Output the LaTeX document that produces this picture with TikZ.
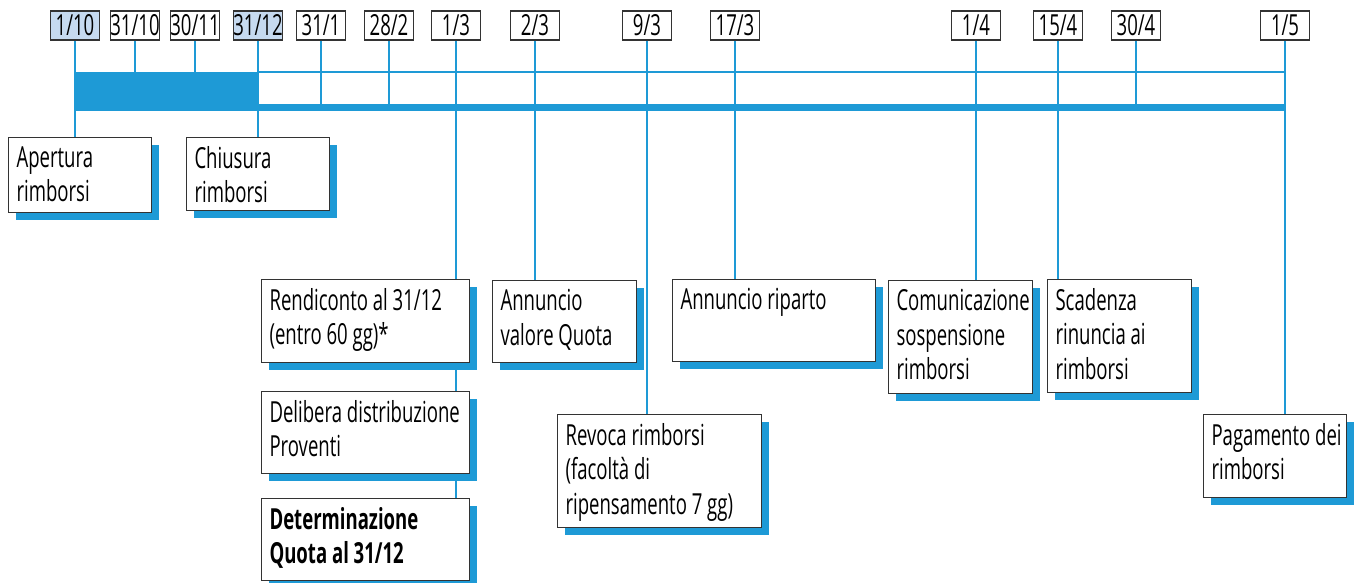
\documentclass[tikz,border=0pt]{standalone}
\usepackage{fontspec}
\setmainfont{Open Sans}[FakeStretch=0.64]
\usetikzlibrary{shadows}
\definecolor{tlblue}{HTML}{1E9AD6}
\definecolor{hilite}{HTML}{C6DAF0}
\definecolor{frame}{HTML}{333333}
\newcommand{\evtext}[3]{\parbox[c][#2][t]{#1}{\raggedright #3}}

\begin{document}
\begin{tikzpicture}[x=0.2mm,y=-0.2mm,
  datebox/.style={draw=frame,fill=white,line width=0.6pt,minimum width=0.97cm,minimum height=0.58cm,inner sep=0pt,font=\fontsize{16.5}{19.5}\selectfont},
  datehi/.style={datebox,fill=hilite},
  evbox/.style={draw=frame,fill=white,line width=0.6pt,anchor=north west,inner xsep=0.16cm,inner ysep=0.18cm,font=\fontsize{16.5}{19.5}\selectfont,
    general shadow={fill=tlblue,shadow xshift=0.14cm,shadow yshift=-0.15cm}},
  tick/.style={tlblue,line width=1.1pt}]
\useasboundingbox (0,0) rectangle (1357,583);

% date labels
\node[datehi] (d110) at (75,25.5) {1/10};
\node[datebox] (d3110) at (135,25.5) {31/10};
\node[datebox] (d3011) at (195,25.5) {30/11};
\node[datehi] (d3112) at (258,25.5) {31/12};
\node[datebox] (d311) at (321,25.5) {31/1};
\node[datebox] (d282) at (389,25.5) {28/2};
\node[datebox] (d13) at (456,25.5) {1/3};
\node[datebox] (d23) at (535,25.5) {2/3};
\node[datebox] (d93) at (647,25.5) {9/3};
\node[datebox] (d173) at (735,25.5) {17/3};
\node[datebox] (d14) at (976,25.5) {1/4};
\node[datebox] (d154) at (1058,25.5) {15/4};
\node[datebox] (d304) at (1136,25.5) {30/4};
\node[datebox] (d15) at (1285,25.5) {1/5};

% time bar
\coordinate (topL) at (258,72);
\coordinate (topR) at (1285,72);
\coordinate (barL) at (75,107.5);
\coordinate (barR) at (1286,107.5);
\fill[tlblue] (75,72) rectangle (258,111);
\draw[tlblue,line width=4pt] (barL) -- (barR);
\draw[tick] (topL) -- (topR);

% events
\node[evbox] (apert) at (8,137) {\evtext{2.54cm}{1.14cm}{Apertura\\rimborsi}};
\node[evbox] (chius) at (186,137) {\evtext{2.54cm}{1.10cm}{Chiusura\\rimborsi}};
\node[evbox] (rend) at (261,279) {\evtext{3.84cm}{1.30cm}{Rendiconto al 31/12\\(entro 60 gg)*}};
\node[evbox] (delib) at (261,391) {\evtext{3.84cm}{1.28cm}{Delibera distribuzione\\Proventi}};
\node[evbox] (determ) at (261,498) {\evtext{3.84cm}{1.28cm}{\bfseries Determinazione\\Quota al 31/12}};
\node[evbox] (annval) at (492,280) {\evtext{2.56cm}{1.28cm}{Annuncio\\valore Quota}};
\node[evbox] (revoca) at (557,414) {\evtext{3.76cm}{1.90cm}{Revoca rimborsi\\(facoltà di\\ripensamento 7 gg)}};
\node[evbox] (annrip) at (672,279) {\evtext{3.74cm}{1.28cm}{Annuncio riparto}};
\node[evbox] (comun) at (888,280) {\evtext{2.56cm}{1.90cm}{\mbox{Comunicazione}\\sospensione\\rimborsi}};
\node[evbox] (scad) at (1047,279) {\evtext{2.56cm}{1.90cm}{Scadenza\\rinuncia ai\\rimborsi}};
\node[evbox] (pagam) at (1203,414) {\evtext{2.54cm}{1.30cm}{\mbox{Pagamento dei}\\rimborsi}};

% ticks
\draw[tick] (d3110.south) -- (d3110.south |- topL);
\draw[tick] (d3011.south) -- (d3011.south |- topL);
\draw[tick] (d311.south) -- (d311.south |- barL);
\draw[tick] (d282.south) -- (d282.south |- barL);
\draw[tick] (d304.south) -- (d304.south |- barL);
\draw[tick] (d110.south) -- (d110.south |- apert.north);
\draw[tick] (d3112.south) -- (d3112.south |- chius.north);
\draw[tick] (d13.south) -- (d13.south |- rend.north);
\draw[tick] (rend.south -| d13) -- (delib.north -| d13);
\draw[tick] (delib.south -| d13) -- (determ.north -| d13);
\draw[tick] (d23.south) -- (d23.south |- annval.north);
\draw[tick] (d93.south) -- (d93.south |- revoca.north);
\draw[tick] (d173.south) -- (d173.south |- annrip.north);
\draw[tick] (d14.south) -- (d14.south |- comun.north);
\draw[tick] (d154.south) -- (d154.south |- scad.north);
\draw[tick] (d15.south) -- (d15.south |- pagam.north);
\end{tikzpicture}
\end{document}
